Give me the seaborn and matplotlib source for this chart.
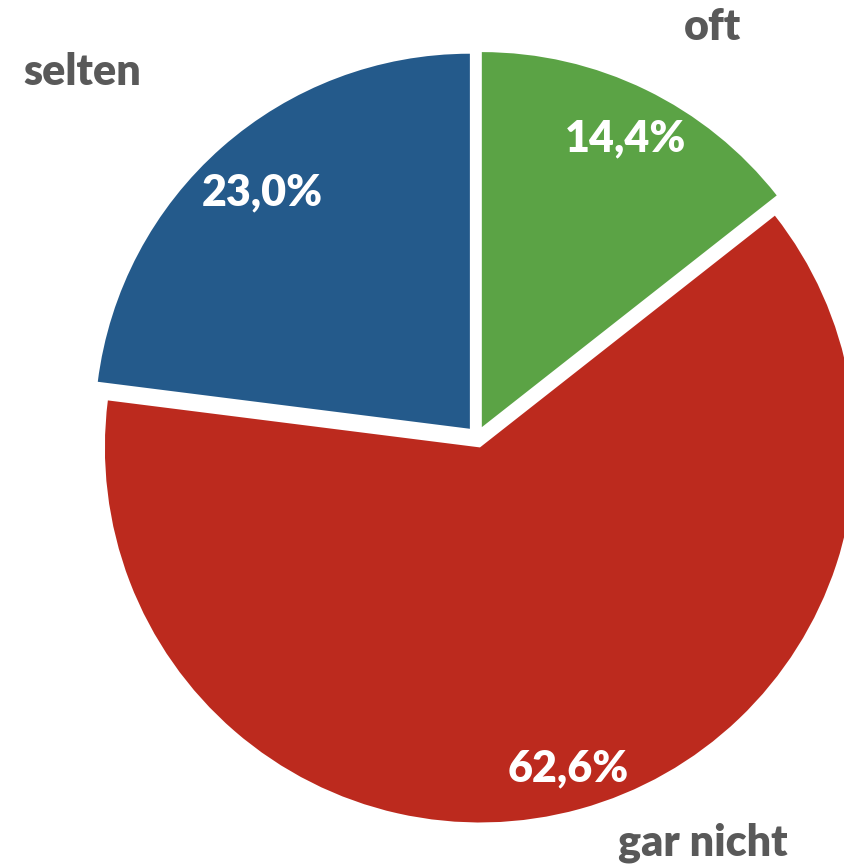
import numpy as np
import pandas as pd
import seaborn as sns
import matplotlib.pyplot as plt

# data
categories = ['oft', 'gar nicht', 'selten']
shares = [14.4, 62.6, 23.0]
colors = ['#5ba345', '#bc2a1e', '#245a8b']

# label anchors (data coords, radius = 1)
cat_pos = [(0.629, 1.093), (0.603, -1.083), (-1.053, 0.973)]
pct_pos = [(0.395, 0.797), (0.243, -0.883), (-0.573, 0.651)]


def fmt_pct(v):
    return f"{v:.1f}%".replace('.', ',')


def main():
    sns.set_theme(style="white")
    plt.rcParams['font.family'] = ['Lato', 'DejaVu Sans']

    df = pd.DataFrame({'category': categories, 'share': shares})

    fig = plt.figure(figsize=(8.45, 8.66), dpi=100)
    ax = fig.add_axes([0, 0, 1, 1])

    ax.pie(df['share'], colors=colors, startangle=90, counterclock=False,
           explode=[0.029] * len(df), radius=1,
           wedgeprops=dict(linewidth=0))

    for (cx, cy), (px, py), cat, val in zip(cat_pos, pct_pos, df['category'], df['share']):
        ax.text(cx, cy, cat, ha='center', va='center', fontsize=31,
                fontweight='heavy', color='#595959')
        ax.text(px, py, fmt_pct(val), ha='center', va='center', fontsize=31,
                fontweight='heavy', color='white')

    ax.set_xlim(-1.272, 0.981)
    ax.set_ylim(-1.144, 1.165)
    ax.set_aspect('auto')
    ax.axis('off')

    fig.savefig('out.png', dpi=100)


if __name__ == "__main__":
    main()
